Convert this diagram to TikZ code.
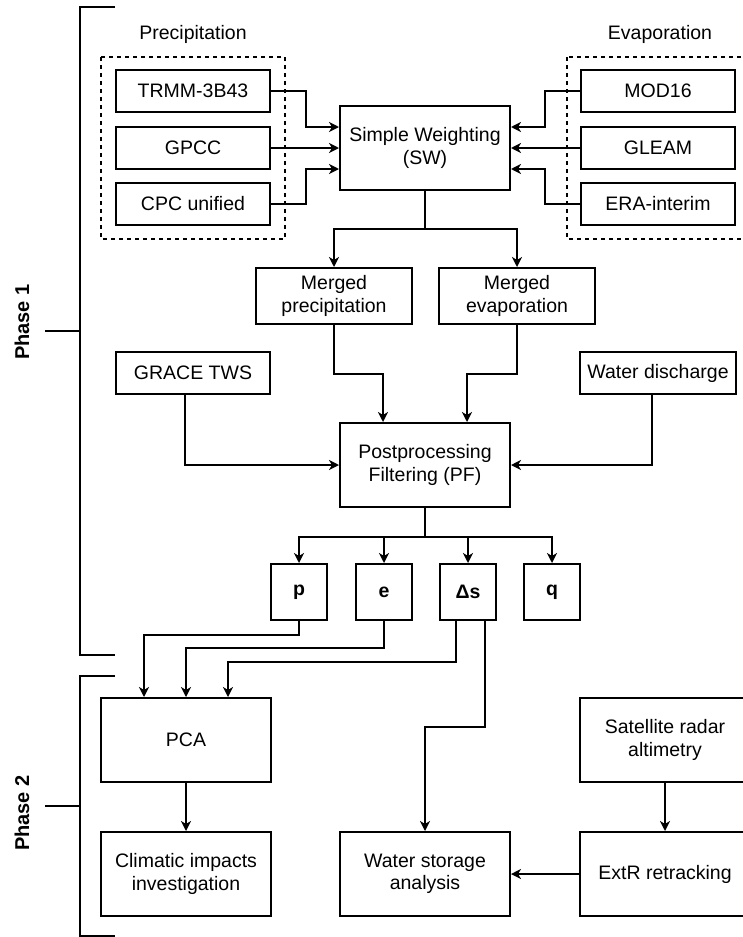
\documentclass[tikz,border=0pt]{standalone}
\usepackage{fontspec}
\setmainfont{Liberation Sans}
\usetikzlibrary{arrows.meta}

\tikzset{
  line/.style={line width=2pt},
  arr/.style={line width=2pt, -{Stealth[length=10pt,width=10pt,inset=3pt]}},
  src/.style={draw, line width=2pt, minimum width=154pt, minimum height=42pt, inner sep=0pt, align=center},
  proc/.style={draw, line width=2pt, minimum width=170pt, minimum height=84pt, inner sep=0pt, align=center},
  merged/.style={draw, line width=2pt, minimum width=156pt, minimum height=56pt, inner sep=0pt, align=center},
  var/.style={draw, line width=2pt, minimum width=56pt, minimum height=56pt, inner sep=0pt,
    font=\fontsize{19.5}{22.5}\selectfont\bfseries},
  group/.style={draw, line width=2pt, dash pattern=on 4pt off 4pt},
  phase/.style={rotate=90, font=\fontsize{20}{24}\selectfont\bfseries}
}

\begin{document}
\begin{tikzpicture}[x=1pt, y=-1pt, font=\fontsize{19.5}{22.5}\selectfont]
\useasboundingbox (0,0) rectangle (742,937);

% phase brackets
\draw[line] (115,7) -- (80,7) -- (80,655) -- (115,655);
\draw[line] (45,331) -- (80,331);
\node[phase] (ph1) at (22,322) {Phase 1};
\draw[line] (115,676) -- (80,676) -- (80,936) -- (115,936);
\draw[line] (45,806) -- (80,806);
\node[phase] (ph2) at (22,813) {Phase 2};

% data groups
\draw[group] (101,57) rectangle (285,239);
\draw[group] (567,57) rectangle (760,239);
\node (lprec) at (193,34) {Precipitation};
\node (levap) at (660,34) {Evaporation};

\node[src] (trmm)  at (193,91)  {TRMM-3B43};
\node[src] (gpcc)  at (193,148) {GPCC};
\node[src] (cpc)   at (193,204) {CPC unified};
\node[src] (mod)   at (658,91)  {MOD16};
\node[src] (gleam) at (658,148) {GLEAM};
\node[src] (era)   at (658,204) {ERA-interim};

\node[proc] (sw) at (425,148) {Simple Weighting\\(SW)};

\node[merged] (mprec) at (334,296) {Merged\\precipitation};
\node[merged] (mevap) at (517,296) {Merged\\evaporation};

\node[src] (grace) at (193,373) {GRACE TWS};
\node[src, minimum width=156pt] (wdis) at (658,373) {Water discharge};

\node[proc] (pf) at (425,465) {Postprocessing\\Filtering (PF)};

\node[var] (p)  at (299,592) {p};
\node[var] (e)  at (384,592) {e};
\node[var] (ds) at (468,592) {Δs};
\node[var] (q)  at (552,592) {q};

\node[proc] (pca)  at (186,740) {PCA};
\node[proc] (clim) at (186,874) {Climatic impacts\\investigation};
\node[proc] (wsa)  at (425,874) {Water storage\\analysis};
\node[proc] (sat)  at (665,740) {Satellite radar\\altimetry};
\node[proc] (extr) at (665,874) {ExtR retracking};

% phase 1 connectors
\draw[arr] (trmm.east) -- ++(35,0) |- ([yshift=21pt]sw.west);
\draw[arr] (gpcc.east) -- (sw.west);
\draw[arr] (cpc.east) -- ++(35,0) |- ([yshift=-21pt]sw.west);
\draw[arr] (mod.west) -- ++(-35,0) |- ([yshift=21pt]sw.east);
\draw[arr] (gleam.west) -- (sw.east);
\draw[arr] (era.west) -- ++(-35,0) |- ([yshift=-21pt]sw.east);

\draw[arr] (sw.south) -- ++(0,38) -| (mprec.north);
\draw[arr] (sw.south) -- ++(0,38) -| (mevap.north);

\draw[arr] (mprec.south) -- ++(0,49) -| ([xshift=-42pt]pf.north);
\draw[arr] (mevap.south) -- ++(0,49) -| ([xshift=42pt]pf.north);
\draw[arr] ([xshift=-8pt]grace.south) |- (pf.west);
\draw[arr] ([xshift=-6pt]wdis.south) |- (pf.east);

\foreach \v in {p,e,ds,q}
  \draw[arr] (pf.south) -- ++(0,29) -| (\v.north);

% phase 2 connectors
\draw[arr] (p.south) -- ++(0,14) -| ([xshift=-42pt]pca.north);
\draw[arr] (e.south) -- ++(0,27) -| (pca.north);
\draw[arr] ([xshift=-12pt]ds.south) -- ++(0,41) -| ([xshift=42pt]pca.north);
\draw[arr] ([xshift=17pt]ds.south) -- ++(0,106) -| (wsa.north);

\draw[arr] (pca) -- (clim);
\draw[arr] (sat) -- (extr);
\draw[arr] (extr) -- (wsa);

\end{tikzpicture}
\end{document}
